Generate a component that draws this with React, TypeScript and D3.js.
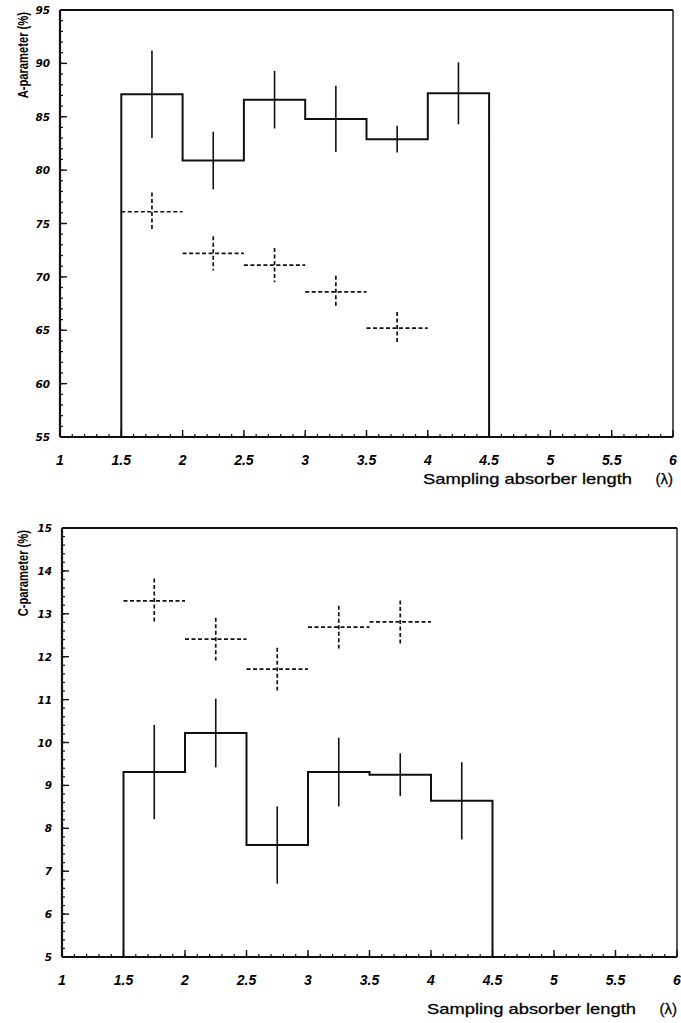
import React from "react";
import * as d3 from "d3";

// bin edges & centres (absorber length in lambda)
const binEdges = [1.5, 2, 2.5, 3, 3.5, 4, 4.5];
const solidCenters = [1.75, 2.25, 2.75, 3.25, 3.75, 4.25];
const dashedCenters = [1.75, 2.25, 2.75, 3.25, 3.75];

const xTicks = [1, 1.5, 2, 2.5, 3, 3.5, 4, 4.5, 5, 5.5, 6];

// A-parameter panel
const aTicks = [55, 60, 65, 70, 75, 80, 85, 90, 95];
const aSolid = [87.1, 80.9, 86.6, 84.8, 82.9, 87.2];
const aSolidErr = [4.1, 2.7, 2.7, 3.1, 1.25, 2.9];
const aDashed = [76.1, 72.2, 71.1, 68.6, 65.2];
const aDashedErr = [1.8, 1.6, 1.6, 1.5, 1.5];

// C-parameter panel
const cTicks = [5, 6, 7, 8, 9, 10, 11, 12, 13, 14, 15];
const cSolid = [9.31, 10.22, 7.61, 9.31, 9.25, 8.64];
const cSolidErr = [1.1, 0.8, 0.9, 0.8, 0.5, 0.9];
const cDashed = [13.3, 12.41, 11.71, 12.69, 12.81];
const cDashedErr = [0.52, 0.5, 0.5, 0.5, 0.5];

const yTickFont = "'DejaVu Sans', sans-serif";
const xTickFont = "'Liberation Sans', Arial, sans-serif";
const labelFont = "'Liberation Sans', Arial, sans-serif";

type PanelProps = {
  left: number;
  right: number;
  top: number;
  bottom: number;
  yTicks: number[];
  yMinor: number;
  solid: number[];
  solidErr: number[];
  dashed: number[];
  dashedErr: number[];
  yLabel: string;
  xLabelGap: number;
};

const Panel = ({
  left,
  right,
  top,
  bottom,
  yTicks,
  yMinor,
  solid,
  solidErr,
  dashed,
  dashedErr,
  yLabel,
  xLabelGap,
}: PanelProps) => {
  const x = d3.scaleLinear().domain([1, 6]).range([left, right]);
  const yDomain = d3.extent(yTicks) as [number, number];
  const y = d3.scaleLinear().domain(yDomain).range([bottom, top]);

  // step outline of the histogram, closed down to the x axis
  const stepPts: [number, number][] = [[binEdges[0], yDomain[0]]];
  solid.forEach((v, i) => stepPts.push([binEdges[i], v]));
  stepPts.push([binEdges[binEdges.length - 1], solid[solid.length - 1]]);
  stepPts.push([binEdges[binEdges.length - 1], yDomain[0]]);
  const step = d3
    .line<[number, number]>()
    .x((d) => x(d[0]))
    .y((d) => y(d[1]))
    .curve(d3.curveStepAfter)(stepPts);

  const xMinor = d3.range(1, 6.0001, 0.1);
  const yMinorTicks = d3.range(yDomain[0], yDomain[1] + 1e-6, yMinor);

  return (
    <g>
      {/* frame */}
      <line x1={left} x2={right} y1={top} y2={top} stroke="#111" strokeWidth={2.2} />
      <line x1={right} x2={right} y1={top} y2={bottom} stroke="#111" strokeWidth={1.4} />
      <line x1={left} x2={left} y1={top} y2={bottom} stroke="#111" strokeWidth={2.2} />
      <line x1={left} x2={right} y1={bottom} y2={bottom} stroke="#111" strokeWidth={2} />

      {/* x ticks */}
      {xMinor.map((t, i) => (
        <line key={"xm" + i} x1={x(t)} x2={x(t)} y1={bottom} y2={bottom - 3} stroke="#111" strokeWidth={1.2} />
      ))}
      {xTicks.map((t) => (
        <g key={"x" + t}>
          <line x1={x(t)} x2={x(t)} y1={bottom} y2={bottom - 7} stroke="#111" strokeWidth={1.4} />
          <text
            x={x(t)}
            y={bottom + 28}
            textAnchor="middle"
            fontFamily={xTickFont}
            fontSize={14}
            fontWeight="bold"
            fontStyle="italic"
          >
            {t}
          </text>
        </g>
      ))}

      {/* y ticks */}
      {yMinorTicks.map((t, i) => (
        <line key={"ym" + i} x1={left} x2={left + 3} y1={y(t)} y2={y(t)} stroke="#111" strokeWidth={1.2} />
      ))}
      {yTicks.map((t) => (
        <g key={"y" + t}>
          <line x1={left} x2={left + 7} y1={y(t)} y2={y(t)} stroke="#111" strokeWidth={1.4} />
          <text
            x={left - 10}
            y={y(t) + 4}
            textAnchor="end"
            fontFamily={yTickFont}
            fontSize={10.5}
            fontWeight="bold"
            fontStyle="italic"
          >
            {t}
          </text>
        </g>
      ))}

      {/* solid histogram with vertical errors */}
      <path d={step ?? ""} fill="none" stroke="#111" strokeWidth={2} />
      {solid.map((v, i) => (
        <line
          key={"se" + i}
          x1={x(solidCenters[i])}
          x2={x(solidCenters[i])}
          y1={y(v + solidErr[i])}
          y2={y(v - solidErr[i])}
          stroke="#111"
          strokeWidth={1.6}
        />
      ))}

      {/* dashed crosses */}
      {dashed.map((v, i) => (
        <g key={"d" + i} stroke="#111" strokeWidth={1.7} strokeDasharray="4,2.5">
          <line x1={x(dashedCenters[i] - 0.25)} x2={x(dashedCenters[i] + 0.25)} y1={y(v)} y2={y(v)} />
          <line
            x1={x(dashedCenters[i])}
            x2={x(dashedCenters[i])}
            y1={y(v + dashedErr[i])}
            y2={y(v - dashedErr[i])}
          />
        </g>
      ))}

      {/* labels */}
      <text
        transform={`translate(28,${top + 2}) rotate(-90) scale(0.8,1)`}
        textAnchor="end"
        fontFamily={labelFont}
        fontSize={14}
        fontWeight="bold"
      >
        {yLabel}
      </text>
      <text
        x={right - 41}
        y={bottom + xLabelGap}
        textAnchor="end"
        fontFamily={labelFont}
        fontSize={15}
        stroke="#111"
        strokeWidth={0.3}
        textLength={209}
        lengthAdjust="spacingAndGlyphs"
      >
        Sampling absorber length
      </text>
      <text
        x={right}
        y={bottom + xLabelGap}
        textAnchor="end"
        fontFamily={labelFont}
        fontSize={15}
        stroke="#111"
        strokeWidth={0.3}
      >
        (λ)
      </text>
    </g>
  );
};

export default function App() {
  return (
    <svg
      width={681}
      height={1023}
      style={{ position: "absolute", left: 0, top: 0, background: "#fff" }}
    >
      <Panel
        left={60}
        right={673}
        top={10}
        bottom={437}
        yTicks={aTicks}
        yMinor={1}
        solid={aSolid}
        solidErr={aSolidErr}
        dashed={aDashed}
        dashedErr={aDashedErr}
        yLabel="A-parameter (%)"
        xLabelGap={47}
      />
      <Panel
        left={62}
        right={677}
        top={528}
        bottom={957}
        yTicks={cTicks}
        yMinor={0.2}
        solid={cSolid}
        solidErr={cSolidErr}
        dashed={cDashed}
        dashedErr={cDashedErr}
        yLabel="C-parameter (%)"
        xLabelGap={57}
      />
    </svg>
  );
}
